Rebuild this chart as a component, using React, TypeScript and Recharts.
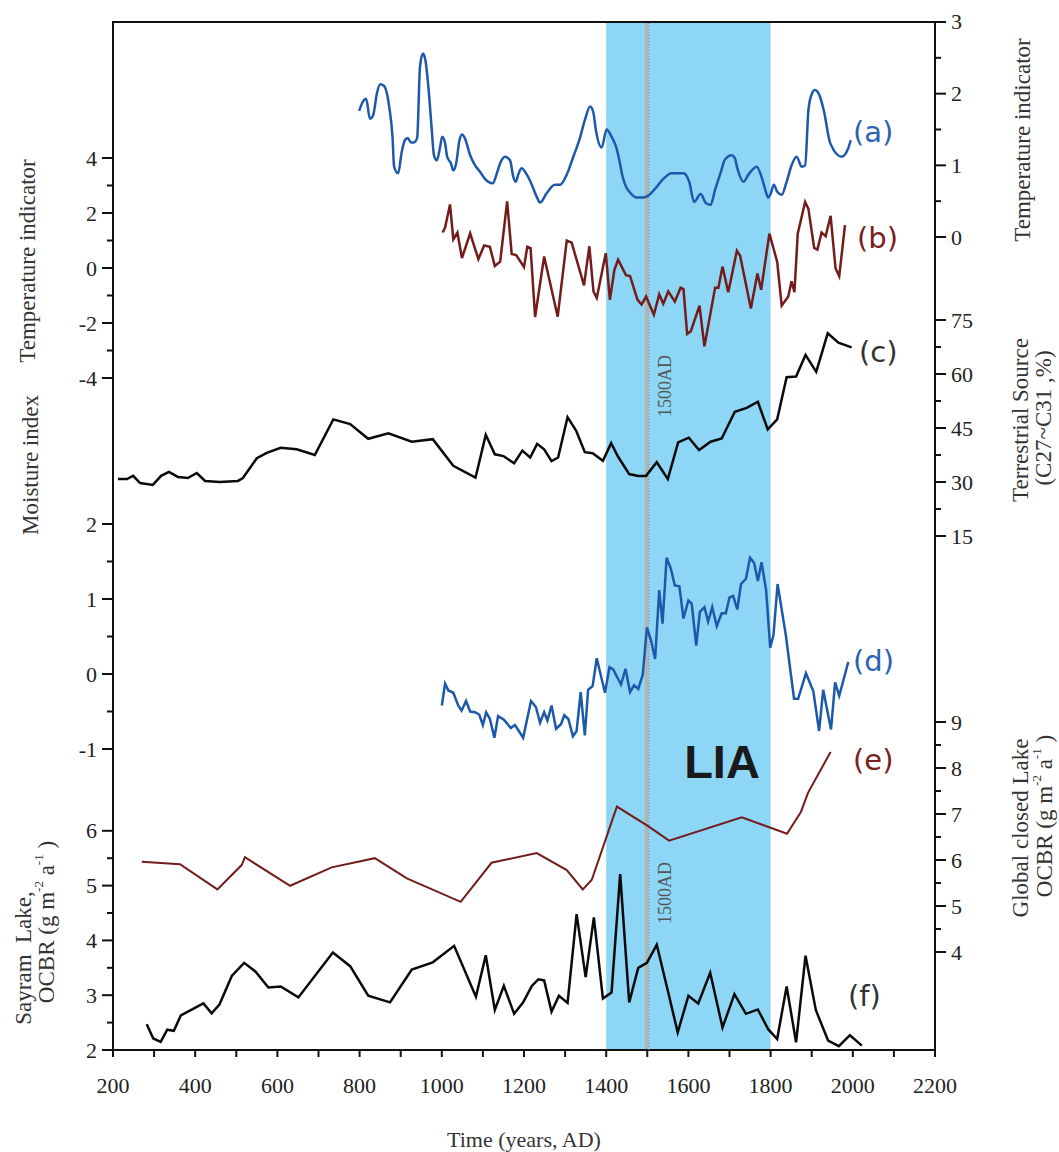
import {
  ComposedChart,
  Line,
  XAxis,
  YAxis,
  ReferenceArea,
  ReferenceLine,
} from "recharts";

const W = 1059;
const H = 1152;
const PLOT = { left: 113, right: 935, top: 22, bottom: 1050 };

// (a) temperature indicator (right scale)
const aYears = [
  799, 808, 816, 825, 833, 842, 850, 859, 872, 880,
  884, 894, 902, 910, 917, 925, 932, 940, 947, 954,
  960, 968, 975, 981, 988, 996, 1001, 1008, 1013, 1022,
  1028, 1035, 1043, 1049, 1056, 1069, 1081, 1093, 1105, 1124,
  1134, 1142, 1154, 1166, 1174, 1180, 1186, 1194, 1207, 1219,
  1231, 1239, 1255, 1275, 1288, 1304, 1320, 1336, 1348, 1361,
  1369, 1375, 1389, 1401, 1413, 1424, 1432, 1438, 1446, 1458,
  1474, 1490, 1507, 1523, 1539, 1559, 1588, 1602, 1614, 1630,
  1643, 1654, 1665, 1679, 1689, 1705, 1713, 1719, 1734, 1746,
  1766, 1778, 1786, 1794, 1800, 1808, 1816, 1827, 1839, 1851,
  1863, 1876, 1884, 1892, 1898, 1908, 1920, 1930, 1945, 1973,
  1989, 1995,
];
const aValues = [
  1.76, 1.89, 1.93, 1.65, 1.7, 2.0, 2.13, 2.11, 1.82, 1.4,
  0.98, 0.89, 1.17, 1.35, 1.38, 1.32, 1.32, 1.38, 2.38, 2.56,
  2.47, 2.05, 1.54, 1.14, 1.07, 1.26, 1.4, 1.31, 1.12, 1.03,
  0.93, 1.03, 1.35, 1.43, 1.38, 1.14, 1.0, 0.91, 0.81, 0.75,
  0.89, 1.03, 1.12, 1.07, 0.84, 0.77, 0.87, 0.96, 0.87, 0.73,
  0.56, 0.48, 0.61, 0.73, 0.73, 0.87, 1.12, 1.38, 1.63, 1.82,
  1.73, 1.49, 1.25, 1.5, 1.4, 1.26, 1.07, 0.89, 0.73, 0.62,
  0.55, 0.55, 0.6, 0.7, 0.81, 0.89, 0.89, 0.77, 0.49, 0.6,
  0.47, 0.45, 0.66, 0.91, 1.08, 1.14, 1.1, 0.96, 0.77, 0.87,
  0.98, 0.84, 0.68, 0.55, 0.6, 0.73, 0.63, 0.59, 0.77, 1.0,
  1.12, 0.98, 1.0, 1.77, 1.96, 2.05, 1.96, 1.75, 1.31, 1.12,
  1.24, 1.35,
];

// (b) temperature indicator (left scale)
const bYears = [
  1002, 1008, 1020, 1028, 1038, 1049, 1069, 1089, 1103, 1117,
  1129, 1142, 1159, 1170, 1181, 1200, 1208, 1216, 1227, 1249,
  1282, 1304, 1316, 1346, 1359, 1369, 1377, 1399, 1409, 1420,
  1429, 1448, 1458, 1476, 1486, 1497, 1516, 1529, 1539, 1551,
  1567, 1581, 1588, 1597, 1606, 1627, 1639, 1665, 1673, 1683,
  1697, 1718, 1726, 1752, 1768, 1777, 1797, 1816, 1827, 1843,
  1851, 1858, 1866, 1884, 1892, 1906, 1914, 1924, 1934, 1946,
  1958, 1967, 1981,
];
const bValues = [
  1.29, 1.47, 2.31, 1.04, 1.29, 0.36, 1.26, 0.32, 0.82, 0.77,
  0.07, 0.23, 2.42, 0.51, 0.47, 0.03, 0.77, 0.72, -1.78, 0.42,
  -1.77, 1.0, 0.92, -0.63, 0.79, -0.85, -1.09, 0.54, -1.16, -0.07,
  0.3, -0.26, -0.29, -1.15, -1.33, -1.04, -1.7, -0.96, -1.3, -0.85,
  -1.22, -0.72, -0.77, -2.4, -2.3, -1.37, -2.85, -0.72, -0.72, 0.05,
  -0.88, 0.63, 0.44, -1.47, -0.2, -0.79, 1.25, 0.23, -1.37, -1.04,
  -0.48, -0.88, 1.25, 2.4, 2.15, 0.73, 0.67, 1.29, 1.16, 1.9,
  -0.01, -0.3, 1.56,
];

// (c) terrestrial source, C27~C31 %
const cYears = [
  212, 234, 249, 266, 297, 317, 336, 358, 382, 404,
  424, 460, 504, 516, 550, 574, 608, 647, 691, 736,
  777, 821, 870, 927, 978, 1028, 1082, 1107, 1129, 1150,
  1176, 1196, 1215, 1232, 1249, 1267, 1283, 1306, 1327, 1348,
  1367, 1392, 1412, 1429, 1456, 1478, 1497, 1523, 1550, 1575,
  1601, 1626, 1654, 1681, 1713, 1742, 1769, 1793, 1816, 1839,
  1862, 1885, 1911, 1939, 1965, 1997,
];
const cValues = [
  30.8, 30.8, 31.7, 29.7, 29.2, 31.7, 32.8, 31.4, 31.1, 32.5,
  30.3, 30.0, 30.3, 31.1, 36.6, 38.1, 39.5, 39.1, 37.5, 47.4,
  46.1, 42.0, 43.5, 41.2, 41.9, 34.5, 31.2, 43.1, 37.7, 37.2,
  35.2, 38.7, 36.8, 40.6, 39.1, 35.8, 36.8, 48.0, 44.2, 38.3,
  38.0, 35.9, 40.8, 37.0, 32.2, 31.7, 31.7, 35.5, 30.8, 41.0,
  42.3, 38.9, 41.2, 42.1, 49.5, 50.6, 52.3, 44.6, 47.4, 59.1,
  59.3, 65.3, 60.6, 71.3, 68.7, 67.4,
];

// (d) moisture index
const dYears = [
  1000, 1008, 1016, 1028, 1040, 1048, 1059, 1069, 1081, 1091,
  1100, 1108, 1117, 1128, 1137, 1151, 1168, 1178, 1198, 1217,
  1229, 1239, 1249, 1257, 1267, 1278, 1290, 1298, 1308, 1319,
  1328, 1338, 1348, 1356, 1367, 1377, 1397, 1408, 1417, 1436,
  1447, 1458, 1468, 1478, 1489, 1499, 1509, 1519, 1529, 1537,
  1547, 1557, 1567, 1578, 1588, 1600, 1608, 1619, 1628, 1639,
  1648, 1658, 1669, 1681, 1691, 1700, 1709, 1719, 1728, 1740,
  1750, 1760, 1769, 1778, 1789, 1799, 1807, 1817, 1837, 1857,
  1867, 1886, 1904, 1918, 1928, 1947, 1957, 1967, 1989,
];
const dValues = [
  -0.42, -0.13, -0.22, -0.25, -0.42, -0.49, -0.36, -0.5, -0.51, -0.54,
  -0.68, -0.51, -0.6, -0.85, -0.56, -0.61, -0.72, -0.68, -0.85, -0.36,
  -0.44, -0.65, -0.51, -0.62, -0.42, -0.73, -0.67, -0.55, -0.6, -0.83,
  -0.76, -0.24, -0.82, -0.21, -0.16, 0.21, -0.25, 0.09, 0.06, -0.14,
  0.07, -0.24, -0.15, -0.2, -0.01, 0.62, 0.45, 0.2, 1.12, 0.67,
  1.55, 1.41, 1.18, 1.17, 0.74, 0.98, 0.94, 0.38, 0.83, 0.89,
  0.7, 0.89, 0.64, 0.81, 0.81, 1.02, 1.04, 0.86, 1.2, 1.27,
  1.55, 1.48, 1.24, 1.49, 1.12, 0.35, 0.52, 1.2, 0.52, -0.33,
  -0.33, 0.01, -0.23, -0.76, -0.21, -0.74, -0.11, -0.29, 0.16,
];

// (e) global closed lake OCBR
const eYears = [
  270, 363, 454, 513, 521, 631, 732, 837, 915, 1046, 1121, 1231,
  1304, 1343, 1365, 1426, 1501, 1553, 1730, 1840, 1874, 1891, 1946,
];
const eValues = [
  5.96, 5.91, 5.36, 5.89, 6.06, 5.44, 5.84, 6.04, 5.6, 5.09, 5.94, 6.15,
  5.78, 5.36, 5.57, 7.16, 6.74, 6.42, 6.93, 6.57, 7.05, 7.46, 8.35,
];

// (f) Sayram Lake OCBR
const fYears = [
  282, 298, 316, 332, 348, 365, 420, 440, 459, 489,
  519, 547, 578, 608, 651, 735, 777, 821, 874, 927,
  978, 1030, 1083, 1107, 1129, 1151, 1176, 1198, 1219, 1235,
  1249, 1267, 1285, 1306, 1328, 1350, 1370, 1392, 1413, 1434,
  1456, 1478, 1499, 1523, 1551, 1574, 1600, 1624, 1653, 1683,
  1712, 1740, 1769, 1794, 1816, 1839, 1862, 1885, 1910, 1940,
  1966, 1993, 2022,
];
const fValues = [
  2.47, 2.21, 2.15, 2.37, 2.35, 2.63, 2.85, 2.67, 2.83, 3.35,
  3.59, 3.43, 3.14, 3.16, 2.96, 3.78, 3.53, 2.99, 2.87, 3.47,
  3.6, 3.9, 2.97, 3.73, 2.73, 3.17, 2.66, 2.87, 3.17, 3.29,
  3.27, 2.7, 2.99, 2.86, 4.48, 3.33, 4.42, 2.94, 3.05, 5.21,
  2.87, 3.5, 3.59, 3.92, 3.05, 2.32, 2.99, 2.85, 3.41, 2.41,
  3.02, 2.66, 2.74, 2.38, 2.2, 3.16, 2.14, 3.72, 2.73, 2.17,
  2.07, 2.27, 2.08,
];

// axis ticks
const xTicks = [
  200, 300, 400, 500, 600, 700, 800, 900, 1000, 1100, 1200,
  1300, 1400, 1500, 1600, 1700, 1800, 1900, 2000, 2100, 2200,
];
const xLabels = [200, 400, 600, 800, 1000, 1200, 1400, 1600, 1800, 2000, 2200];
const tempLeftTicks = [-4, -3, -2, -1, 0, 1, 2, 3, 4];
const tempLeftLabels = [-4, -2, 0, 2, 4];
const moistTicks = [-1, -0.5, 0, 0.5, 1, 1.5, 2];
const moistLabels = [-1, 0, 1, 2];
const sayramTicks = [2, 2.5, 3, 3.5, 4, 4.5, 5, 5.5, 6];
const sayramLabels = [2, 3, 4, 5, 6];
const tempRightTicks = [0, 0.5, 1, 1.5, 2, 2.5, 3];
const tempRightLabels = [0, 1, 2, 3];
const terrTicks = [15, 22.5, 30, 37.5, 45, 52.5, 60, 67.5, 75];
const terrLabels = [15, 30, 45, 60, 75];
const lakeTicks = [4, 4.5, 5, 5.5, 6, 6.5, 7, 7.5, 8, 8.5, 9];
const lakeLabels = [4, 5, 6, 7, 8, 9];

const BLUE = "#1d59aa";
const RED = "#731c1c";
const BLACK = "#0a0a0a";
const serif = "'Liberation Serif', 'Times New Roman', serif";
const sans = "'DejaVu Sans', Verdana, sans-serif";

const rows = (xs: number[], ys: number[]) =>
  xs.map((year, i) => ({ year, v: ys[i] }));

// domain that puts value v0 at page pixel p0, k pixels per unit
function span(v0: number, p0: number, k: number): [number, number] {
  return [v0 - (PLOT.bottom - p0) / k, v0 + (p0 - PLOT.top) / k];
}

// ticks are drawn from the frame edge so the 1px axis widths don't shift them
function sideTick(side: "left" | "right", labels: number[]) {
  return (props: any) => {
    const { y, payload } = props;
    const v = payload.value;
    const major = labels.includes(v);
    const len = major ? 11 : 6;
    const dir = side === "left" ? -1 : 1;
    const x0 = side === "left" ? PLOT.left : PLOT.right;
    return (
      <g>
        <line x1={x0} y1={y} x2={x0 + dir * len} y2={y} stroke="#111" strokeWidth={2} />
        {major && (
          <text
            x={x0 + dir * (len + 5)}
            y={y}
            textAnchor={side === "left" ? "end" : "start"}
            dominantBaseline="central"
            fontFamily={serif}
            fontSize={22}
            fill="#222"
          >
            {v}
          </text>
        )}
      </g>
    );
  };
}

function BottomTick(props: any) {
  const { x, payload } = props;
  const v = payload.value;
  const y = PLOT.bottom;
  return (
    <g>
      <line x1={x} y1={y} x2={x} y2={y + 7} stroke="#111" strokeWidth={2} />
      {xLabels.includes(v) && (
        <text x={x} y={y + 43} textAnchor="middle" fontFamily={serif} fontSize={22} fill="#222">
          {v}
        </text>
      )}
    </g>
  );
}

function Title({ x, y, children, size = 23 }: any) {
  return (
    <text
      transform={`translate(${x},${y}) rotate(-90)`}
      textAnchor="middle"
      dominantBaseline="central"
      fontFamily={serif}
      fontSize={size}
      fill="#333"
    >
      {children}
    </text>
  );
}

function OcbrUnit() {
  return (
    <>
      OCBR (g m
      <tspan dy={-8} fontSize={13}>-2</tspan>
      <tspan dy={8}> a</tspan>
      <tspan dy={-8} fontSize={13}>-1</tspan>
      <tspan dy={8}> )</tspan>
    </>
  );
}

const seriesLabels = [
  { t: "(a)", x: 853, y: 132, c: "#2a63b4" },
  { t: "(b)", x: 857, y: 238, c: "#7a2020" },
  { t: "(c)", x: 859, y: 352, c: "#333" },
  { t: "(d)", x: 853, y: 661, c: "#2a63b4" },
  { t: "(e)", x: 853, y: 760, c: "#7a2020" },
  { t: "(f)", x: 848, y: 996, c: "#333" },
];

const axisCommon = {
  type: "number" as const,
  width: 1,
  interval: 0 as const,
  tickSize: 0,
  tickMargin: 0,
  axisLine: false,
  allowDataOverflow: true,
};

export default function App() {
  return (
    <div style={{ position: "absolute", left: 0, top: 0, width: W, height: H, background: "#fff" }}>
      <ComposedChart
        width={W}
        height={H}
        margin={{ top: PLOT.top, right: W - PLOT.right - 3, bottom: H - PLOT.bottom - 1, left: PLOT.left - 3 }}
      >
        <XAxis
          type="number"
          dataKey="year"
          domain={[200, 2200]}
          ticks={xTicks}
          interval={0}
          height={1}
          tickSize={0}
          tickMargin={0}
          axisLine={false}
          tick={<BottomTick />}
          allowDataOverflow
        />
        <YAxis yAxisId="tempL" orientation="left" {...axisCommon}
          domain={span(0, 268, 27.5)} ticks={tempLeftTicks} tick={sideTick("left", tempLeftLabels)} />
        <YAxis yAxisId="moist" orientation="left" {...axisCommon}
          domain={span(0, 674, 75)} ticks={moistTicks} tick={sideTick("left", moistLabels)} />
        <YAxis yAxisId="sayram" orientation="left" {...axisCommon}
          domain={span(2, 1050, 54.8)} ticks={sayramTicks} tick={sideTick("left", sayramLabels)} />
        <YAxis yAxisId="tempR" orientation="right" {...axisCommon}
          domain={span(0, 237, 71.67)} ticks={tempRightTicks} tick={sideTick("right", tempRightLabels)} />
        <YAxis yAxisId="terr" orientation="right" {...axisCommon}
          domain={span(75, 320, 3.6)} ticks={terrTicks} tick={sideTick("right", terrLabels)} />
        <YAxis yAxisId="lake" orientation="right" {...axisCommon}
          domain={span(9, 722, 46)} ticks={lakeTicks} tick={sideTick("right", lakeLabels)} />

        {/* Little Ice Age band and the 1500 AD marker */}
        <ReferenceArea yAxisId="tempL" x1={1400} x2={1800} fill="#8dd6f5" fillOpacity={1} stroke="none" />
        <ReferenceArea yAxisId="tempL" x1={1494} x2={1503} fill="#b3b3b3" fillOpacity={1} stroke="none" />
        <ReferenceLine yAxisId="tempL" x={1504} stroke="#8a8a8a" strokeDasharray="1 2" strokeWidth={1} />
        <ReferenceArea yAxisId="tempL" x1={200} x2={2200} fill="none" fillOpacity={0} stroke="#111" strokeWidth={2} />

        <Line yAxisId="tempR" data={rows(aYears, aValues)} dataKey="v" type="monotone"
          stroke={BLUE} strokeWidth={2.5} dot={false} isAnimationActive={false} />
        <Line yAxisId="tempL" data={rows(bYears, bValues)} dataKey="v" type="linear"
          stroke={RED} strokeWidth={2.5} dot={false} isAnimationActive={false} />
        <Line yAxisId="terr" data={rows(cYears, cValues)} dataKey="v" type="linear"
          stroke={BLACK} strokeWidth={2.5} dot={false} isAnimationActive={false} />
        <Line yAxisId="moist" data={rows(dYears, dValues)} dataKey="v" type="linear"
          stroke={BLUE} strokeWidth={2.5} dot={false} isAnimationActive={false} />
        <Line yAxisId="lake" data={rows(eYears, eValues)} dataKey="v" type="linear"
          stroke={RED} strokeWidth={2} dot={false} isAnimationActive={false} />
        <Line yAxisId="sayram" data={rows(fYears, fValues)} dataKey="v" type="linear"
          stroke={BLACK} strokeWidth={2.5} dot={false} isAnimationActive={false} />
      </ComposedChart>

      <svg width={W} height={H} style={{ position: "absolute", left: 0, top: 0, pointerEvents: "none" }}>
        <Title x={27} y={261}>Temperature indicator</Title>
        <Title x={30} y={465}>Moisture index</Title>
        <Title x={23} y={958}>Sayram&#160;&#160;Lake,</Title>
        <Title x={46} y={922}><OcbrUnit /></Title>
        <Title x={1022} y={140}>Temperature indicator</Title>
        <Title x={1020} y={420}>Terrestrial Source</Title>
        <Title x={1043} y={418}>(C27~C31 ,%)</Title>
        <Title x={1020} y={828}>Global closed Lake</Title>
        <Title x={1044} y={816}><OcbrUnit /></Title>

        <text x={524} y={1147} textAnchor="middle" fontFamily={serif} fontSize={22} fill="#333">
          Time (years, AD)
        </text>

        <text transform="translate(665,386) rotate(-90)" textAnchor="middle" dominantBaseline="central"
          fontFamily={serif} fontSize={18} fill="#555">1500AD</text>
        <text transform="translate(665,893) rotate(-90)" textAnchor="middle" dominantBaseline="central"
          fontFamily={serif} fontSize={18} fill="#555">1500AD</text>

        <text x={722} y={778} textAnchor="middle" fontFamily="'Liberation Sans', Arial, sans-serif"
          fontWeight="bold" fontSize={47} fill="#1a1a1a">LIA</text>

        {seriesLabels.map((s) => (
          <text key={s.t} x={s.x} y={s.y} dominantBaseline="central" fontFamily={sans} fontSize={29} fill={s.c}>
            {s.t}
          </text>
        ))}
      </svg>
    </div>
  );
}
